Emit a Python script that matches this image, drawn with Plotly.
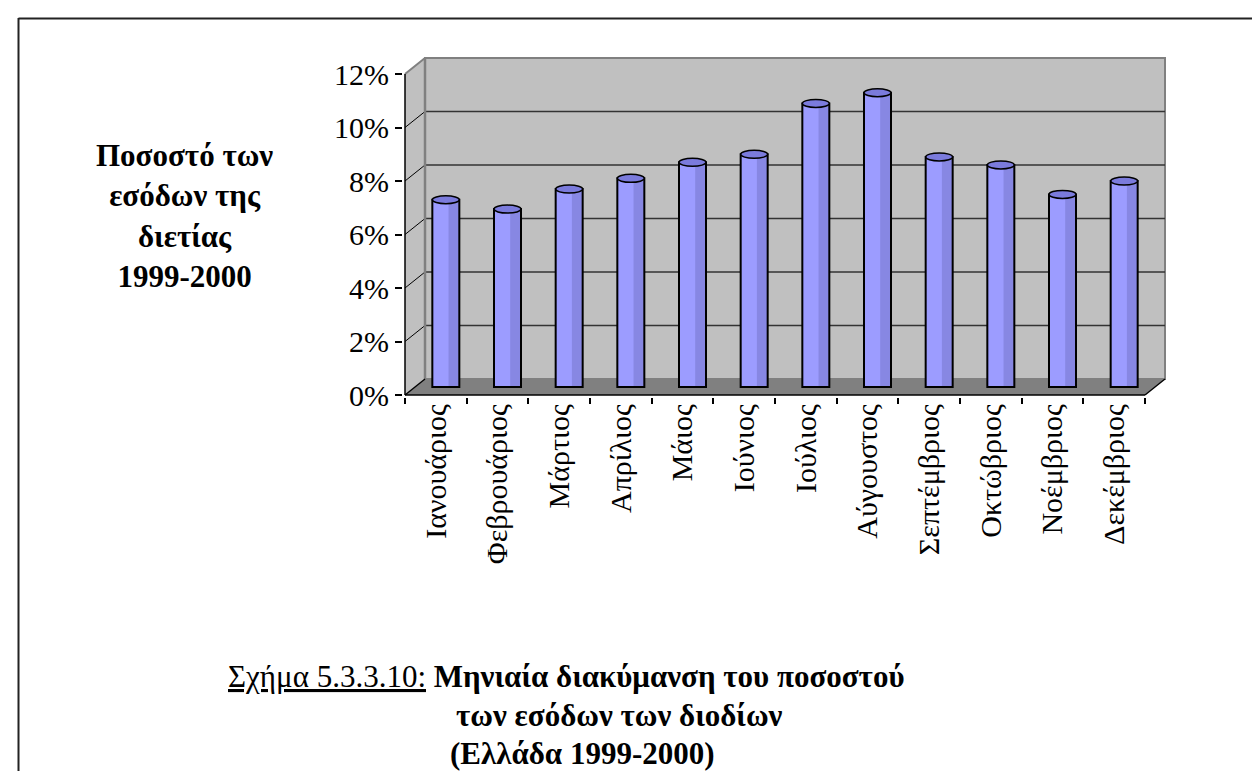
import plotly.graph_objects as go

# monthly share of toll revenue, Greece 1999-2000 (% of two-year total)
months = ["Ιανουάριος", "Φεβρουάριος", "Μάρτιος", "Απρίλιος", "Μάιος", "Ιούνιος",
          "Ιούλιος", "Αύγουστος", "Σεπτέμβριος", "Οκτώβριος", "Νοέμβριος", "Δεκέμβριος"]
share = [7.0, 6.65, 7.4, 7.8, 8.4, 8.7, 10.6, 11.0, 8.6, 8.3, 7.2, 7.7]
y_ticks = [0, 2, 4, 6, 8, 10, 12]
y_ticktext = [f"{v}%" for v in y_ticks]

SERIF = "Liberation Serif"
W, H = 1260, 771

# front edge of the pseudo-3D box, in pixels
X0, X1 = 397, 1137
Y0, Y12 = 387, 66
ppc = (X1 - X0) / 12          # px per category
ppv = (Y0 - Y12) / 12         # px per percent
DX, DY = 20 / ppc, 16 / ppv   # depth offset in data units
BW = 27 / ppc
EH = 4 / ppv
padx, pady = 2 / ppc, 2 / ppv

ml, mr = X0 - 2, W - (X1 + 20 + 2)
mt, mb = Y12 - 16 - 2, H - (Y0 + 2)


def px(x):
    return (x - ml) / (W - ml - mr)


def py(y):
    return (H - mb - y) / (H - mt - mb)


fig = go.Figure()
off = DX / 2 - BW / 2
fig.add_trace(go.Bar(x=months, y=share, base=DY / 2, width=BW, offset=off,
                     marker=dict(color="#9c9cff", line=dict(width=0)), hoverinfo="skip"))
fig.add_trace(go.Bar(x=months, y=share, base=DY / 2, width=BW * 0.4, offset=off + BW * 0.6,
                     marker=dict(color="#8787e3", line=dict(width=0)), hoverinfo="skip"))
fig.add_trace(go.Bar(x=months, y=share, base=DY / 2, width=BW, offset=off,
                     marker=dict(color="rgba(0,0,0,0)", line=dict(color="black", width=2)),
                     hovertemplate="%{x}: %{y:.1f}%<extra></extra>"))

shapes = []
L, R = -0.5, 11.5
# floor, side wall, back wall
shapes.append(dict(type="path", layer="below", line=dict(width=0), fillcolor="#808080",
                   path=f"M {L},0 L {R},0 L {R+DX},{DY} L {L+DX},{DY} Z"))
shapes.append(dict(type="path", layer="below", line=dict(width=0), fillcolor="#c0c0c0",
                   path=f"M {L},0 L {L},12 L {L+DX},{12+DY} L {L+DX},{DY} Z"))
shapes.append(dict(type="rect", layer="below", x0=L + DX, x1=R + DX, y0=DY, y1=12 + DY,
                   fillcolor="#c0c0c0", line=dict(color="#808080", width=2)))
for v in y_ticks[1:-1]:
    shapes.append(dict(type="line", layer="below", x0=L + DX, x1=R + DX, y0=v + DY, y1=v + DY,
                       line=dict(color="#333333", width=1.5)))
for v in y_ticks[1:-1]:
    shapes.append(dict(type="line", layer="below", x0=L, x1=L + DX, y0=v, y1=v + DY,
                       line=dict(color="black", width=1)))
shapes.append(dict(type="line", layer="below", x0=L, x1=L + DX, y0=12, y1=12 + DY,
                   line=dict(color="#808080", width=2)))
shapes.append(dict(type="line", layer="below", x0=L + DX, x1=L + DX, y0=DY, y1=12 + DY,
                   line=dict(color="#808080", width=2.5)))
# front axis lines
for a, b, c, d in [(L, 0, L, 12), (L, 0, R, 0), (R, 0, R + DX, DY), (L, 0, L + DX, DY)]:
    shapes.append(dict(type="line", x0=a, y0=b, x1=c, y1=d, line=dict(color="black", width=1.5)))
# cylinder tops
for i, v in enumerate(share):
    cx, top = i + DX / 2, v + DY / 2
    shapes.append(dict(type="circle", x0=cx - BW / 2, x1=cx + BW / 2, y0=top - EH, y1=top + EH,
                       fillcolor="#7b7bdc", line=dict(color="black", width=1.5)))
# page frame (top and left rules)
shapes.append(dict(type="line", xref="paper", yref="paper", x0=px(10.5), x1=px(W), y0=py(10.5), y1=py(10.5),
                   line=dict(color="#222222", width=2)))
shapes.append(dict(type="line", xref="paper", yref="paper", x0=px(10.5), x1=px(10.5), y0=py(10), y1=py(H),
                   line=dict(color="#222222", width=2)))

annotations = [
    dict(x=px(176), y=py(208), xref="paper", yref="paper", showarrow=False,
         xanchor="center", yanchor="middle", align="center",
         text="<b>Ποσοστό των<br>εσόδων της<br>διετίας<br>1999-2000</b>",
         font=dict(family=SERIF, size=31, color="black")),
    dict(x=px(218), y=py(668), xref="paper", yref="paper", showarrow=False,
         xanchor="left", yanchor="middle",
         text='<span style="text-decoration:underline">Σχήμα 5.3.3.10:</span> <b>Μηνιαία διακύμανση του ποσοστού</b>',
         font=dict(family=SERIF, size=31, color="black")),
    dict(x=px(446), y=py(707), xref="paper", yref="paper", showarrow=False,
         xanchor="left", yanchor="middle", text="<b>των εσόδων των διοδίων</b>",
         font=dict(family=SERIF, size=31, color="black")),
    dict(x=px(440), y=py(745), xref="paper", yref="paper", showarrow=False,
         xanchor="left", yanchor="middle", text="<b>(Ελλάδα 1999-2000)</b>",
         font=dict(family=SERIF, size=31, color="black")),
]

fig.update_layout(
    width=W, height=H, barmode="overlay", showlegend=False,
    margin=dict(l=ml, r=mr, t=mt, b=mb, pad=0),
    paper_bgcolor="white", plot_bgcolor="white",
    shapes=shapes, annotations=annotations,
    font=dict(family=SERIF, color="black"),
    xaxis=dict(type="category", range=[L - padx, R + DX + padx], tickson="boundaries",
               ticks="outside", ticklen=6, tickwidth=1.5, tickcolor="black",
               tickangle=-90, tickfont=dict(family=SERIF, size=30, color="black"),
               showgrid=False, zeroline=False, showline=False, automargin=False, fixedrange=True),
    yaxis=dict(range=[-pady, 12 + DY + pady], tickvals=y_ticks, ticktext=y_ticktext,
               ticks="outside", ticklen=7, tickwidth=1.5, tickcolor="black",
               tickfont=dict(family=SERIF, size=30, color="black"),
               showgrid=False, zeroline=False, showline=False, automargin=False, fixedrange=True),
)

fig.write_html("out.html")
